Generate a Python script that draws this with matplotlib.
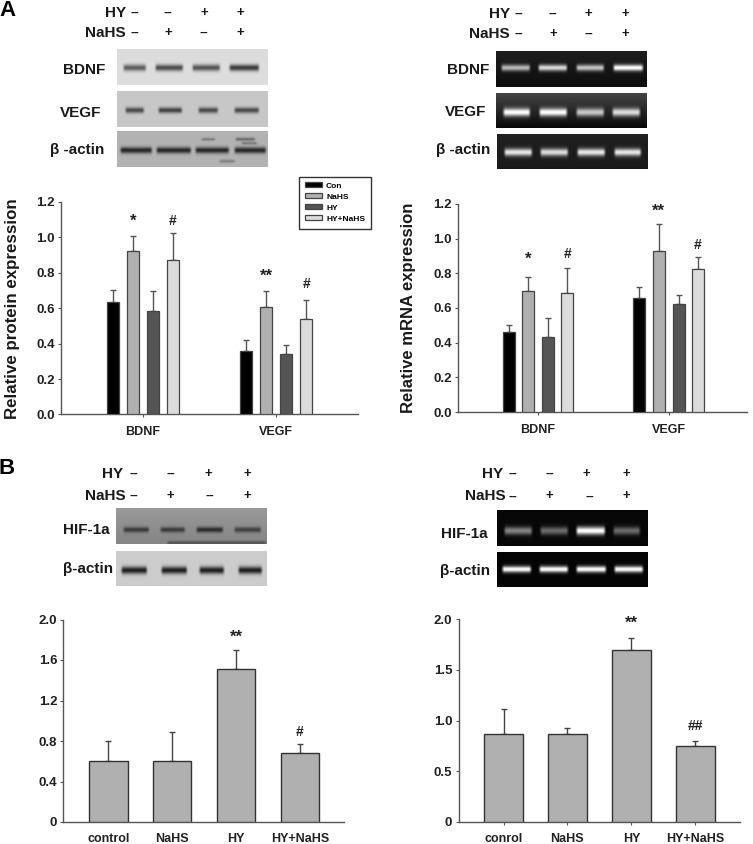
import numpy as np
import matplotlib
matplotlib.use('Agg')
import matplotlib.pyplot as plt

plt.rcParams['font.family'] = ['Liberation Sans', 'DejaVu Sans']
plt.rcParams['font.weight'] = 'bold'
plt.rcParams['axes.labelweight'] = 'bold'

W, H = 753, 844

# bar values
groups = ['BDNF', 'VEGF']
series = ['Con', 'NaHS', 'HY', 'HY+NaHS']
colors = ['#000000', '#b0b0b0', '#555555', '#dcdcdc']

protein_vals = [[0.636, 0.361], [0.925, 0.606], [0.587, 0.344], [0.870, 0.542]]
protein_tops = [[0.705, 0.423], [1.010, 0.700], [0.696, 0.393], [1.025, 0.647]]
protein_marks = [['', ''], ['*', '**'], ['', ''], ['#', '#']]
protein_mark_y = [[0, 0], [1.10, 0.79], [0, 0], [1.10, 0.743]]

mrna_vals = [[0.460, 0.655], [0.700, 0.928], [0.433, 0.622], [0.688, 0.826]]
mrna_tops = [[0.503, 0.724], [0.780, 1.084], [0.545, 0.674], [0.832, 0.892]]
mrna_marks = [['', ''], ['*', '**'], ['', ''], ['#', '#']]
mrna_mark_y = [[0, 0], [0.888, 1.165], [0, 0], [0.92, 0.97]]

hif_wb_labels = ['control', 'NaHS', 'HY', 'HY+NaHS']
hif_wb_vals = [0.606, 0.606, 1.509, 0.685]
hif_wb_tops = [0.804, 0.893, 1.700, 0.774]
hif_wb_marks = ['', '', '**', '#']
hif_wb_mark_y = [0, 0, 1.84, 0.90]

hif_pcr_labels = ['conrol', 'NaHS', 'HY', 'HY+NaHS']
hif_pcr_vals = [0.865, 0.865, 1.694, 0.750]
hif_pcr_tops = [1.112, 0.930, 1.812, 0.796]
hif_pcr_marks = ['', '', '**', '##']
hif_pcr_mark_y = [0, 0, 1.974, 0.964]

hy_row = ['--', '--', '+', '+']
nahs_row = ['--', '+', '--', '+']

fig = plt.figure(figsize=(W / 100, H / 100), dpi=100)


def axes_px(left, top, right, bottom):
    return fig.add_axes([left / W, 1 - bottom / H, (right - left) / W, (bottom - top) / H])


def text_px(x, y, s, **kw):
    kw.setdefault('ha', 'center')
    kw.setdefault('va', 'center')
    kw.setdefault('color', '#1a1a1a')
    return fig.text(x / W, 1 - y / H, s, **kw)


def draw_blot(box, bg_top, bg_bottom, band_y, lanes, strength, sigma, band_val, extra=()):
    l, t, r, b = box
    yy, xx = np.mgrid[t:b:0.5, l:r:0.5]
    img = bg_top + (bg_bottom - bg_top) * (yy - t) / (b - t)
    bands = [(band_y, sigma, lane, s) for lane, s in zip(lanes, strength)] + list(extra)
    for y0, sig, (x0, x1), s in bands:
        xp = np.clip((xx - x0) / 3, 0, 1) * np.clip((x1 - xx) / 3, 0, 1)
        yp = np.exp(-0.5 * ((yy - y0) / sig) ** 2)
        img = img + (band_val - img) * s * xp * yp
    ax = axes_px(l, t, r, b)
    ax.imshow(img, cmap='gray', vmin=0, vmax=1, aspect='auto', interpolation='bilinear')
    ax.axis('off')


def treatment_rows(hy_right, nahs_right, y1, y2, hy_cols, nahs_cols):
    text_px(hy_right, y1, 'HY', ha='right', fontsize=11)
    text_px(nahs_right, y2, 'NaHS', ha='right', fontsize=11)
    for x, s in zip(hy_cols, hy_row):
        text_px(x, y1, s, fontsize=9.5)
    for x, s in zip(nahs_cols, nahs_row):
        text_px(x, y2, s, fontsize=9.5)


def style_axis(ax, yticks, yticklabels, ymax):
    ax.set_ylim(0, ymax)
    ax.set_yticks(yticks)
    ax.set_yticklabels(yticklabels, fontsize=9.5, color='#222222')
    ax.spines['top'].set_visible(False)
    ax.spines['right'].set_visible(False)
    for side in ['left', 'bottom']:
        ax.spines[side].set_color('#555555')
        ax.spines[side].set_linewidth(1.0)
    ax.tick_params(axis='y', length=2.5, width=0.8, color='#555555', pad=2)


def mark_size(s):
    return 12 if '*' in s else 10


def grouped_chart(box, centers_px, step_px, vals, tops, marks, mark_y, ylabel, label_x, label_size):
    l, t, r, b = box
    ax = axes_px(l, t, r, b)
    unit = centers_px[1] - centers_px[0]
    ax.set_xlim((l - centers_px[0]) / unit, (r - centers_px[0]) / unit)
    x = np.arange(len(groups))
    offs = (np.arange(len(series)) - 1.5) * step_px / unit
    for i, name in enumerate(series):
        err = np.array(tops[i]) - np.array(vals[i])
        ax.bar(x + offs[i], vals[i], 12 / unit, color=colors[i], edgecolor='#444444',
               linewidth=0.9, label=name, zorder=3)
        ax.errorbar(x + offs[i], vals[i], yerr=[np.zeros(2), err], fmt='none', ecolor='#555555',
                    elinewidth=1.0, capsize=2, capthick=1.0, zorder=2)
        for j in range(len(groups)):
            if marks[i][j]:
                ax.text(x[j] + offs[i], mark_y[i][j], marks[i][j], ha='center', va='center_baseline',
                        fontsize=mark_size(marks[i][j]), color='#222222')
    style_axis(ax, np.arange(0, 1.21, 0.2), ['%.1f' % v for v in np.arange(0, 1.21, 0.2)], 1.2)
    ax.set_xticks(x)
    ax.set_xticklabels(groups, fontsize=9, color='#222222')
    ax.tick_params(axis='x', length=2.5, width=0.8, color='#555555', pad=6)
    ax.set_ylabel(ylabel, fontsize=label_size, color='#1a1a1a', va='center')
    ax.yaxis.set_label_coords((label_x - l) / (r - l), 0.5)
    return ax


def hif_chart(box, centers_px, width_px, labels, vals, tops, marks, mark_y, yticks, yticklabels, xtick_len, pad):
    l, t, r, b = box
    ax = axes_px(l, t, r, b)
    unit = (centers_px[-1] - centers_px[0]) / 3
    ax.set_xlim((l - centers_px[0]) / unit, (r - centers_px[0]) / unit)
    x = np.arange(len(labels))
    err = np.array(tops) - np.array(vals)
    ax.bar(x, vals, width_px / unit, color='#b0b0b0', edgecolor='#333333', linewidth=1.0, zorder=3)
    ax.errorbar(x, vals, yerr=[np.zeros(4), err], fmt='none', ecolor='#444444', elinewidth=1.0,
                capsize=2.5, capthick=1.0, zorder=2)
    for i in range(len(labels)):
        if marks[i]:
            ax.text(x[i], mark_y[i], marks[i], ha='center', va='center_baseline',
                    fontsize=mark_size(marks[i]), color='#222222')
    style_axis(ax, yticks, yticklabels, 2.0)
    ax.set_xticks(x)
    ax.set_xticklabels(labels, fontsize=9, color='#222222')
    ax.tick_params(axis='x', length=xtick_len, width=0.8, color='#555555', pad=pad)
    return ax


# panel letters
text_px(8, 10, 'A', fontsize=16, color='black')
text_px(7, 469, 'B', fontsize=16, color='black')

# treatment rows
treatment_rows(126, 126, 13, 33, [135, 168, 204, 240], [135, 168, 204, 240])
treatment_rows(510, 510, 13.5, 34, [519, 553, 588, 625], [519, 553, 589, 625])
treatment_rows(123, 126, 474, 496, [134, 171, 208, 247], [134, 170, 210, 247])
treatment_rows(503, 506, 474, 496.5, [513, 550, 586, 626], [513, 549, 590, 626])

# blot side labels
for x, y, s in [(84, 70, 'BDNF'), (81, 113, 'VEGF'), (77.5, 150, 'β -actin'),
                (468.5, 70, 'BDNF'), (466, 112.5, 'VEGF'), (463, 150, 'β -actin'),
                (86, 530.5, 'HIF-1a'), (88, 568.5, 'β-actin'),
                (464, 534, 'HIF-1a'), (465, 570.5, 'β-actin')]:
    text_px(x, y, s, fontsize=11)

# blots, panel A western
draw_blot((117, 49, 268, 85), 0.86, 0.87, 67.5, [(122, 147), (154, 184), (191, 221), (228, 260)],
          [0.75, 0.85, 0.8, 0.95], 2.3, 0.2)
draw_blot((117, 91, 268, 127), 0.78, 0.78, 110, [(124, 145), (157, 183), (197, 219), (233, 260)],
          [0.85, 0.9, 0.85, 0.85], 2.0, 0.2)
draw_blot((117, 131, 268, 167), 0.70, 0.70, 150, [(119, 153), (155, 192), (194, 230), (233, 267)],
          [1, 1, 1, 1], 2.2, 0.15,
          extra=[(139, 1.0, (200, 216), 0.4), (139, 1.2, (234, 256), 0.5), (143, 1.0, (240, 258), 0.4),
                 (161, 1.2, (218, 236), 0.35)])
# blots, panel A gel
draw_blot((496, 51, 647, 87), 0.12, 0.05, 67.5, [(500, 531), (537, 568), (575, 605), (612, 644)],
          [0.7, 0.85, 0.75, 1], 2.2, 1.0)
draw_blot((496, 93, 647, 128), 0.27, 0.03, 112, [(502, 531), (538, 568), (575, 605), (611, 641)],
          [1, 1, 0.75, 0.85], 2.8, 1.0)
draw_blot((497, 134, 648, 169), 0.13, 0.10, 152, [(503, 533), (539, 569), (576, 606), (613, 642)],
          [0.9, 0.85, 0.9, 0.9], 2.6, 1.0)
# blots, panel B western
draw_blot((116, 508, 267, 544), 0.60, 0.52, 529.5, [(122, 150), (159, 186), (195, 224), (233, 262)],
          [0.8, 0.8, 0.95, 0.75], 1.9, 0.15, extra=[(542.5, 1.2, (166, 267), 0.55)])
draw_blot((116, 551, 267, 586), 0.80, 0.80, 570, [(120, 148), (160, 188), (198, 225), (237, 263)],
          [1, 1, 1, 1], 2.6, 0.12)
# blots, panel B gel
draw_blot((497, 510, 648, 546), 0.03, 0.03, 530.5, [(503, 533), (539, 569), (575, 606), (612, 641)],
          [0.5, 0.4, 1, 0.4], 2.8, 1.0)
draw_blot((497, 552, 648, 587), 0.02, 0.02, 569, [(501, 532), (538, 569), (575, 607), (613, 644)],
          [1, 1, 1, 1], 2.2, 1.0)

# panel A charts
ax1 = grouped_chart((61, 202, 358, 414.5), [142.7, 276.3], 20, protein_vals, protein_tops, protein_marks,
                    protein_mark_y, 'Relative protein expression', 13, 12.2)
ax2 = grouped_chart((458, 204, 747, 412), [538, 668.7], 19.6, mrna_vals, mrna_tops, mrna_marks,
                    mrna_mark_y, 'Relative mRNA expression', 408, 12)

leg = ax1.legend(loc='upper left', bbox_to_anchor=(299 / W, 1 - 176.5 / H), bbox_transform=fig.transFigure,
                 fontsize=6, frameon=True, fancybox=False, edgecolor='#333333', framealpha=1,
                 handlelength=2.0, handleheight=0.55, labelspacing=0.42, borderpad=0.7,
                 handletextpad=0.55, borderaxespad=0)
leg.get_frame().set_linewidth(1.0)
leg.set_zorder(10)

# panel B charts
hif_chart((63.5, 619.5, 344, 822), [108.3, 172.2, 235.8, 299.8], 38.5, hif_wb_labels, hif_wb_vals, hif_wb_tops,
          hif_wb_marks, hif_wb_mark_y, [0, 0.4, 0.8, 1.2, 1.6, 2.0], ['0', '0.4', '0.8', '1.2', '1.6', '2.0'], 0, 8)
hif_chart((458.5, 619, 740, 822), [503.5, 567.5, 631.7, 695.3], 39, hif_pcr_labels, hif_pcr_vals, hif_pcr_tops,
          hif_pcr_marks, hif_pcr_mark_y, [0, 0.5, 1.0, 1.5, 2.0], ['0', '0.5', '1.0', '1.5', '2.0'], 2.5, 5.2)

fig.savefig('out.png', dpi=100)
